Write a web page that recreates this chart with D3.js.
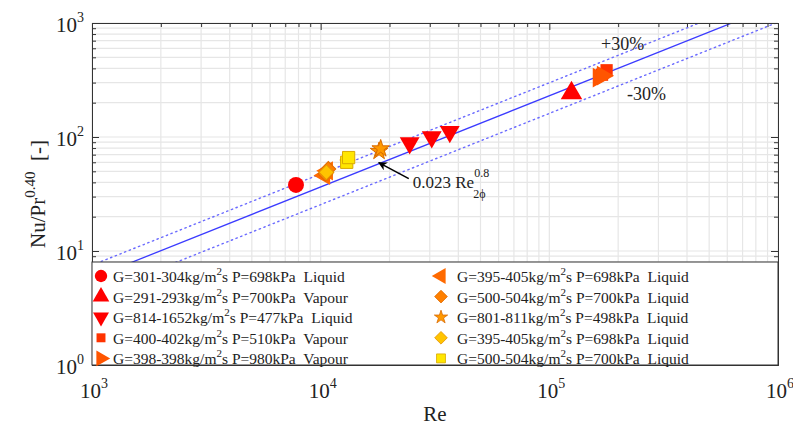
<!DOCTYPE html>
<html>
<head>
<meta charset="utf-8">
<script src="https://cdn.jsdelivr.net/npm/d3@7"></script>
<style>
  body { margin: 0; background: #fff; }
  svg { display: block; }
  text { white-space: pre; font-family: "Liberation Serif", "Times New Roman", "DejaVu Serif", serif; }
</style>
</head>
<body>
<svg id="chart" width="793" height="432"></svg>
<script>
// Axis ranges and decade ticks
const reDomain = [1e3, 1e6];
const nuDomain = [1e0, 1e3];
const xMajor = [1e3, 1e4, 1e5, 1e6];
const yMajor = [1e0, 1e1, 1e2, 1e3];

// Correlation Nu/Pr^0.4 = 0.023 Re^0.8 with a ±30 % band
const corrCoef = 0.023;
const corrExp = 0.8;
const bandFrac = 0.30;

// Series legend labels (mass flux, pressure, phase)
const seriesG = ["301-304", "291-293", "814-1652", "400-402", "398-398",
                 "395-405", "500-504", "801-811", "395-405", "500-504"];
const seriesP = ["698", "700", "477", "510", "980", "698", "700", "498", "698", "700"];
const seriesPhase = ["Liquid", "Vapour", "Liquid", "Vapour", "Vapour",
                     "Liquid", "Liquid", "Liquid", "Liquid", "Liquid"];

// Measured points per series
const seriesRe = [
  [7800],
  [125000],
  [24500, 30600, 36700],
  [178000, 170000],
  [164000, 171000],
  [10400, 10700],
  [10500, 10800],
  [18000, 18300],
  [10600, 13100],
  [13000, 13250]
];
const seriesNu = [
  [38],
  [243],
  [88.5, 100, 111],
  [385, 352],
  [332, 345],
  [46, 50.5],
  [47.5, 52.5],
  [75, 79],
  [49, 63],
  [60, 66]
];

// Marker styling per series
const seriesShape = ["circle", "triUp", "triDown", "square", "triRight",
                     "triLeft", "diamond", "star", "diamond", "square"];
const seriesFill = ["#ff0000", "#ff0000", "#ff0000", "#ff3300", "#ff5500",
                    "#ff6a00", "#ff8000", "#ff9900", "#ffc400", "#ffe600"];
const seriesStroke = ["none", "none", "none", "none", "none",
                      "none", "#e06a00", "#d96a00", "#e69500", "#d9a800"];

const W = 793, H = 432;
const m = { left: 92, right: 15, top: 23, bottom: 67 };
const pw = W - m.left - m.right;   // 686
const ph = H - m.top - m.bottom;   // 342

const svg = d3.select("#chart");
const x = d3.scaleLog().domain(reDomain).range([m.left, m.left + pw]);
const y = d3.scaleLog().domain(nuDomain).range([m.top + ph, m.top]);

// minor decades
function minorTicks(domain) {
  const out = [];
  for (let e = Math.log10(domain[0]); e < Math.log10(domain[1]); e++) {
    for (let k = 2; k <= 9; k++) out.push(k * Math.pow(10, e));
  }
  return out;
}
const xMinor = minorTicks(reDomain);
const yMinor = minorTicks(nuDomain);

// clip for plot content
const defs = svg.append("defs");
defs.append("clipPath").attr("id", "plotClip")
  .append("rect").attr("x", m.left).attr("y", m.top).attr("width", pw).attr("height", ph);

// grid
const grid = svg.append("g");
grid.selectAll(".gx").data(xMinor.concat(xMajor)).enter().append("line")
  .attr("x1", d => x(d)).attr("x2", d => x(d))
  .attr("y1", m.top).attr("y2", m.top + ph)
  .attr("stroke", "#e6e6e6").attr("stroke-width", 1.2);
grid.selectAll(".gy").data(yMinor.concat(yMajor)).enter().append("line")
  .attr("y1", d => y(d)).attr("y2", d => y(d))
  .attr("x1", m.left).attr("x2", m.left + pw)
  .attr("stroke", "#e6e6e6").attr("stroke-width", 1.2);

// correlation lines
const plot = svg.append("g").attr("clip-path", "url(#plotClip)");
const corr = (re, f) => f * corrCoef * Math.pow(re, corrExp);
const lineGen = d3.line().x(d => x(d[0])).y(d => y(d[1]));
const reEnds = reDomain;
plot.append("path")
  .attr("d", lineGen(reEnds.map(r => [r, corr(r, 1)])))
  .attr("fill", "none").attr("stroke", "#3b3bff").attr("stroke-width", 1.3);
[1 + bandFrac, 1 - bandFrac].forEach(f => {
  plot.append("path")
    .attr("d", lineGen(reEnds.map(r => [r, corr(r, f)])))
    .attr("fill", "none").attr("stroke", "#6a6aff").attr("stroke-width", 1.4)
    .attr("stroke-dasharray", "1.4,3.6").attr("stroke-linecap", "round");
});

// symbol factory
function symbolPath(shape, size) {
  const map = {
    circle: [d3.symbolCircle, 0], triUp: [d3.symbolTriangle, 0],
    triDown: [d3.symbolTriangle, 180], triRight: [d3.symbolTriangle, 90],
    triLeft: [d3.symbolTriangle, -90], square: [d3.symbolSquare, 0],
    diamond: [d3.symbolSquare, 45], star: [d3.symbolStar, 0]
  };
  const [t, rot] = map[shape];
  return { d: d3.symbol().type(t).size(size)(), rot };
}
const dataSize = { circle: 200, triUp: 200, triDown: 170, square: 150, triRight: 170,
                   triLeft: 160, diamond: 110, star: 95 };

// data markers
seriesRe.forEach((res, si) => {
  res.forEach((re, i) => {
    const s = symbolPath(seriesShape[si], dataSize[seriesShape[si]]);
    plot.append("path")
      .attr("d", s.d)
      .attr("transform", `translate(${x(re)},${y(seriesNu[si][i])}) rotate(${s.rot})`)
      .attr("fill", seriesFill[si])
      .attr("stroke", seriesStroke[si]).attr("stroke-width", 1);
  });
});

// axes with inward ticks on all four sides
const tickMajor = 7, tickMinor = 4;
function addAxis(gen, scale, major, minor, transform) {
  const g = svg.append("g").attr("transform", transform);
  g.call(gen(scale).tickValues(major).tickSize(-tickMajor).tickFormat(""));
  const g2 = svg.append("g").attr("transform", transform);
  g2.call(gen(scale).tickValues(minor).tickSize(-tickMinor).tickFormat(""));
  [g, g2].forEach(a => {
    a.selectAll("path").attr("stroke", "#333").attr("stroke-width", 1);
    a.selectAll(".tick line").attr("stroke", "#333").attr("stroke-width", 1);
  });
  g2.select("path").remove();
}
addAxis(d3.axisLeft, y, yMajor, yMinor, `translate(${m.left},0)`);
addAxis(d3.axisRight, y, yMajor, yMinor, `translate(${m.left + pw},0)`);
addAxis(d3.axisTop, x, xMajor, xMinor, `translate(0,${m.top})`);
addAxis(d3.axisBottom, x, xMajor, xMinor, `translate(0,${m.top + ph})`);

// tick labels as powers of ten
const tickFont = 21, supFont = 14;
yMajor.forEach(v => {
  const t = svg.append("text")
    .attr("x", m.left - 8).attr("y", y(v) + 9)
    .attr("text-anchor", "end").attr("font-size", tickFont).attr("fill", "#222");
  t.append("tspan").text("10");
  t.append("tspan").attr("font-size", supFont).attr("dy", -10).text(Math.round(Math.log10(v)));
});
xMajor.forEach(v => {
  const t = svg.append("text")
    .attr("x", x(v) + 2).attr("y", m.top + ph + 33)
    .attr("text-anchor", "middle").attr("font-size", tickFont).attr("fill", "#222");
  t.append("tspan").text("10");
  t.append("tspan").attr("font-size", supFont).attr("dy", -10).text(Math.round(Math.log10(v)));
});

// axis titles
svg.append("text").attr("x", x(Math.sqrt(reDomain[0] * reDomain[1]))).attr("y", m.top + ph + 56)
  .attr("text-anchor", "middle").attr("font-size", 21).attr("fill", "#222").text("Re");
const yl = svg.append("text")
  .attr("transform", `translate(45,${m.top + ph / 2}) rotate(-90)`)
  .attr("text-anchor", "middle").attr("font-size", 21).attr("fill", "#222");
yl.append("tspan").text("Nu/Pr");
yl.append("tspan").attr("font-size", 15).attr("dy", -10).text("0.40");
yl.append("tspan").attr("dy", 10).text("  [-]");

// band labels
svg.append("text").attr("x", 601).attr("y", 50).attr("font-size", 18).attr("fill", "#222").text("+30%");
svg.append("text").attr("x", 627).attr("y", 100).attr("font-size", 18).attr("fill", "#222").text("-30%");

// correlation annotation with arrow
const anchorRe = 18500;
const ax = x(anchorRe), ay = y(corr(anchorRe, 1));
defs.append("marker").attr("id", "arrowHead")
  .attr("viewBox", "0 0 10 10").attr("refX", 9).attr("refY", 5)
  .attr("markerWidth", 9).attr("markerHeight", 9).attr("markerUnits", "userSpaceOnUse")
  .attr("orient", "auto")
  .append("path").attr("d", "M0,0 L10,5 L0,10 L3,5 Z").attr("fill", "#000");
svg.append("line")
  .attr("x1", ax + 27).attr("y1", ay + 16).attr("x2", ax - 3).attr("y2", ay)
  .attr("stroke", "#000").attr("stroke-width", 1.5).attr("marker-end", "url(#arrowHead)");
const ann = svg.append("text").attr("x", ax + 31).attr("y", ay + 25)
  .attr("font-size", 17).attr("fill", "#222");
ann.append("tspan").text("0.023 Re");
ann.append("tspan").attr("font-size", 12).attr("dy", -11).text("0.8");
ann.append("tspan").attr("font-size", 12).attr("dx", -16).attr("dy", 21).text("2\u03d5");

// legend box
const legTop = 262;
const leg = svg.append("g");
leg.append("rect").attr("x", m.left).attr("y", legTop).attr("width", pw).attr("height", m.top + ph - legTop)
  .attr("fill", "#fff").attr("stroke", "#333").attr("stroke-width", 1);
const legendSize = { circle: 120, triUp: 120, triDown: 110, square: 80, triRight: 110,
                     triLeft: 110, diamond: 80, star: 55 };
seriesG.forEach((g, i) => {
  const col = i < 5 ? 0 : 1;
  const row = i % 5;
  const mx = col === 0 ? 101 : 441;
  const tx = col === 0 ? 113 : 457;
  const ry = legTop + 14 + row * 20.6;
  const s = symbolPath(seriesShape[i], legendSize[seriesShape[i]]);
  leg.append("path").attr("d", s.d)
    .attr("transform", `translate(${mx},${ry}) rotate(${s.rot})`)
    .attr("fill", seriesFill[i]).attr("stroke", seriesStroke[i]).attr("stroke-width", 0.8);
  const t = leg.append("text").attr("x", tx).attr("y", ry + 6).attr("font-size", 15.5).attr("fill", "#222");
  t.append("tspan").text(`G=${g}kg/m`);
  t.append("tspan").attr("font-size", 11).attr("dy", -7).text("2");
  t.append("tspan").attr("dy", 7).text(`s P=${seriesP[i]}kPa  ${seriesPhase[i]}`);
});
</script>
</body>
</html>
